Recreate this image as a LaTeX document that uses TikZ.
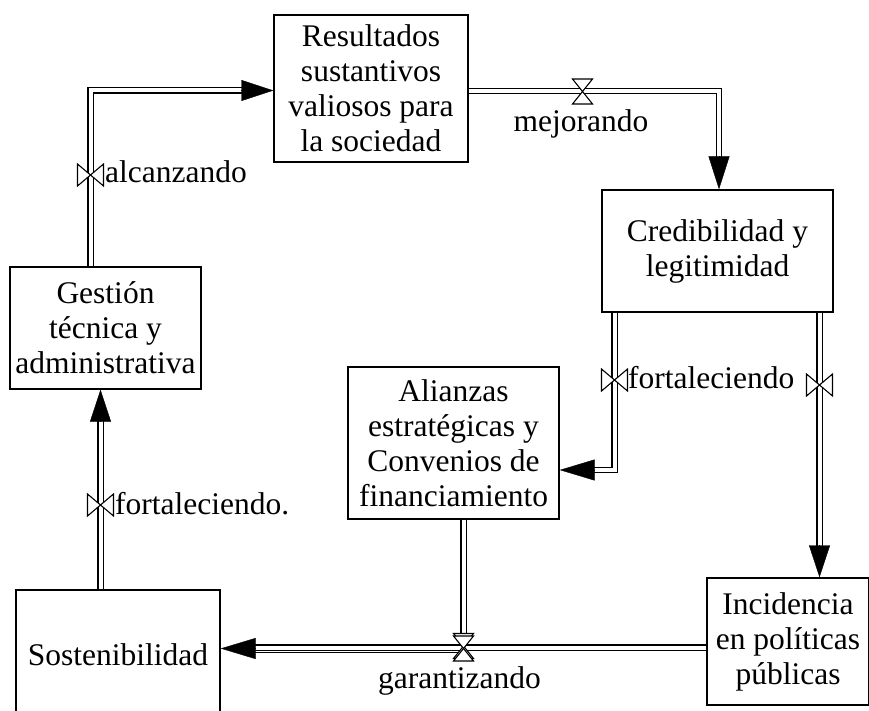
\documentclass[tikz,border=0pt]{standalone}
\usepackage{fontspec}
\setmainfont{Liberation Serif}
\usetikzlibrary{arrows.meta}
\begin{document}
\begin{tikzpicture}[x=1pt,y=-1pt,
  stock/.style={draw, line width=1.4pt, align=center, inner sep=0pt, font=\fontsize{31.5}{35}\selectfont},
  pipe/.style={line width=1.4pt, double=white, double distance=4pt},
  flowtip/.style={-{Triangle[length=#1,width=21pt]}, line width=0.4pt},
  valve/.style={draw, fill=white, line width=1.1pt},
  lbl/.style={font=\fontsize{31.5}{35}\selectfont, inner sep=0pt},
  valveh/.pic={\path[valve] (-13,-11) -- (-13,11) -- (13,-11) -- (13,11) -- cycle;},
  valvev/.pic={\path[valve] (-10,-12.5) -- (10,-12.5) -- (-10,12.5) -- (10,12.5) -- cycle;},
  ]
\useasboundingbox (0,0) rectangle (869,711);
\clip (0,0) rectangle (869,711);
\fill[white] (0,0) rectangle (869,711);

% stocks
\node[stock, minimum width=194pt, minimum height=147pt] (res) at (371,88.5) {Resultados\\sustantivos\\valiosos para\\la sociedad};
\node[stock, minimum width=231pt, minimum height=122pt] (cred) at (717.5,251) {Credibilidad y\\legitimidad};
\node[stock, minimum width=191pt, minimum height=122pt] (ges) at (105.5,328) {Gestión\\técnica y\\administrativa};
\node[stock, minimum width=211pt, minimum height=152pt] (ali) at (453.5,443) {Alianzas\\estratégicas y\\Convenios de\\financiamiento};
\node[stock, minimum width=204pt, minimum height=130pt] (sos) at (118,655) {Sostenibilidad};
\node[stock, minimum width=162pt, minimum height=127pt] (inc) at (788,641.5) {Incidencia\\en políticas\\públicas};

% named points on the pipes
\coordinate (a0) at (90.5,0 |- ges.north);
\coordinate (a1) at (242,90.5);
\coordinate (m0) at (res.east |- 0,91);
\coordinate (m1) at (719,157);
\coordinate (f0) at (614.5,0 |- cred.south);
\coordinate (f1) at (593,470);
\coordinate (c0) at (819.5,0 |- cred.south);
\coordinate (c1) at (819.5,546);
\coordinate (g0) at (463.5,0 |- ali.south);
\coordinate (g1) at (255,649.5);
\coordinate (i0) at (inc.west |- 0,647.5);
\coordinate (i1) at (255,647.5);
\coordinate (s0) at (100.5,0 |- sos.north);
\coordinate (s1) at (100.5,421);

% pipes
\draw[pipe] (a0) |- (a1);
\draw[pipe] (m0) -| (m1);
\draw[pipe] (f0) |- (f1);
\draw[pipe] (c0) -- (c1);
\draw[pipe] (g0) |- (g1);
\draw[pipe] (i0) -- (i1);
\draw[pipe] (s0) -- (s1);

% valves
\pic (v1) at (90.5,175) {valveh};
\pic (v2) at (582.5,91.5) {valvev};
\pic (v3) at (614.5,380) {valveh};
\pic (v4) at (819.5,385) {valveh};
\pic (v5) at (463.5,646) {valvev};
\pic (v6) at (463.5,648.5) {valvev};
\pic (v7) at (100.5,505) {valveh};

% arrow heads
\draw[flowtip=32pt] (a1) -- (res.west |- a1);
\draw[flowtip=33pt] (m1) -- (m1 |- cred.north);
\draw[flowtip=35pt] (f1) -- (ali.east |- f1);
\draw[flowtip=32pt] (c1) -- (c1 |- inc.north);
\draw[flowtip=35pt] (255,648.5) -- (sos.east |- 0,648.5);
\draw[flowtip=32pt] (s1) -- (s1 |- ges.south);

% labels
\node[lbl, anchor=base west] (l1) at (105,183) {alcanzando};
\node[lbl, anchor=base] (l2) at (581,132) {mejorando};
\node[lbl, anchor=base west] (l3) at (628,388) {fortaleciendo};
\node[lbl, anchor=base] (l5) at (459.5,688) {garantizando};
\node[lbl, anchor=base west] (l7) at (115,514) {fortaleciendo.};
\end{tikzpicture}
\end{document}
